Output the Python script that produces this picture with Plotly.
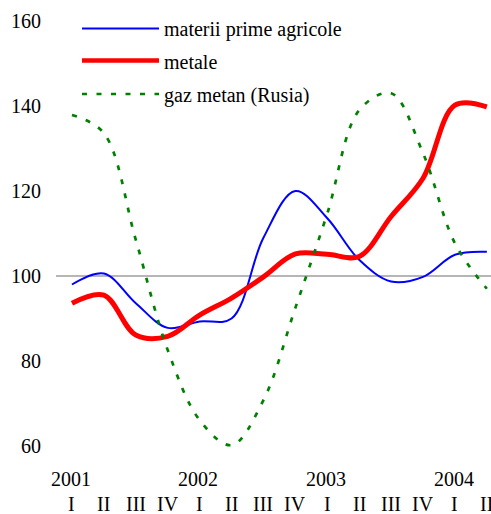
import plotly.graph_objects as go

quarters = ["I", "II", "III", "IV"] * 3 + ["I", "II"]
years = ["2001", "2002", "2003", "2004"]
year_positions = [0, 4, 8, 12]

agricole = [98.0, 100.6, 93.6, 87.8, 89.3, 90.0, 109.0, 120.0, 113.6, 103.8, 98.7, 99.8, 105.0, 105.7]
metale = [93.6, 95.5, 86.1, 85.8, 90.8, 94.8, 99.8, 105.2, 105.1, 104.6, 114.0, 123.0, 140.2, 139.8]
gaz = [137.9, 133.6, 108.5, 82.6, 66.1, 60.2, 70.8, 92.5, 114.7, 139.0, 143.0, 128.9, 107.7, 97.0]

labels = ["materii prime agricole", "metale", "gaz metan (Rusia)"]
colors = ["#0000FF", "#FF0000", "#008000"]
widths = [2, 5, 2.7]
dashes = ["solid", "solid", "5px,9.5px"]

x = list(range(len(quarters)))
FONT = "Liberation Serif"
FS = 20

W, H = 491, 514
L, T, B = 56, 0, 54
plot_h = H - T - B
y_range = [100 - (460 - 276) / 4.25, 100 + 276 / 4.25]
x_range = [-0.5, 13.13]

fig = go.Figure()
for series, name, c, w, d in zip([agricole, metale, gaz], labels, colors, widths, dashes):
    fig.add_trace(go.Scatter(
        x=x, y=series, mode="lines", name=name,
        line=dict(color=c, width=w, dash=d, shape="spline", smoothing=1.0),
        showlegend=False, cliponaxis=False,
    ))

# reference line at 100
fig.add_shape(type="line", xref="paper", yref="y", x0=0, x1=1, y0=100, y1=100,
              line=dict(color="#6e6e6e", width=1.2), layer="below")

def px_to_paper_x(px):
    return (px - L) / (W - L)

def px_to_paper_y(py):
    return (H - B - py) / plot_h

# manual legend
legend_rows = [28.5, 60.5, 94]
text_rows = [30, 62, 95]
for name, c, w, d, ry, ty in zip(labels, colors, widths, dashes, legend_rows, text_rows):
    fig.add_shape(type="line", xref="paper", yref="paper",
                  x0=px_to_paper_x(82), x1=px_to_paper_x(159),
                  y0=px_to_paper_y(ry), y1=px_to_paper_y(ry),
                  line=dict(color=c, width=w if w < 4 else 4.5, dash=d))
    fig.add_annotation(xref="paper", yref="paper", x=px_to_paper_x(162), y=px_to_paper_y(ty),
                       text=name, showarrow=False, xanchor="left", yanchor="middle",
                       font=dict(family=FONT, size=FS, color="black"))

# quarter labels
for xi, q in zip(x, quarters):
    fig.add_annotation(xref="x", yref="paper", x=xi, y=px_to_paper_y(504),
                       text=q, showarrow=False, xanchor="center", yanchor="middle",
                       font=dict(family=FONT, size=FS, color="black"))
# year labels
for xi, yr in zip(year_positions, years):
    fig.add_annotation(xref="x", yref="paper", x=xi - 0.04, y=px_to_paper_y(479),
                       text=yr, showarrow=False, xanchor="center", yanchor="middle",
                       font=dict(family=FONT, size=FS, color="black"))

fig.update_layout(
    width=W, height=H,
    margin=dict(l=L, r=0, t=T, b=B),
    paper_bgcolor="white", plot_bgcolor="white",
    font=dict(family=FONT, size=FS, color="black"),
    xaxis=dict(range=x_range, showgrid=False, zeroline=False, showline=False,
               showticklabels=False, ticks=""),
    yaxis=dict(range=y_range, showgrid=False, zeroline=False, showline=False,
               tickmode="array", tickvals=[60, 80, 100, 120, 140, 160],
               ticktext=["60", "80", "100", "120", "140", "160"],
               ticks="", ticklabelstandoff=14,
               tickfont=dict(family=FONT, size=FS, color="black")),
)

fig.write_html("out.html", config={"displayModeBar": False},
               post_script="document.body.style.margin='0';document.body.style.padding='0';document.body.style.overflow='hidden';")
